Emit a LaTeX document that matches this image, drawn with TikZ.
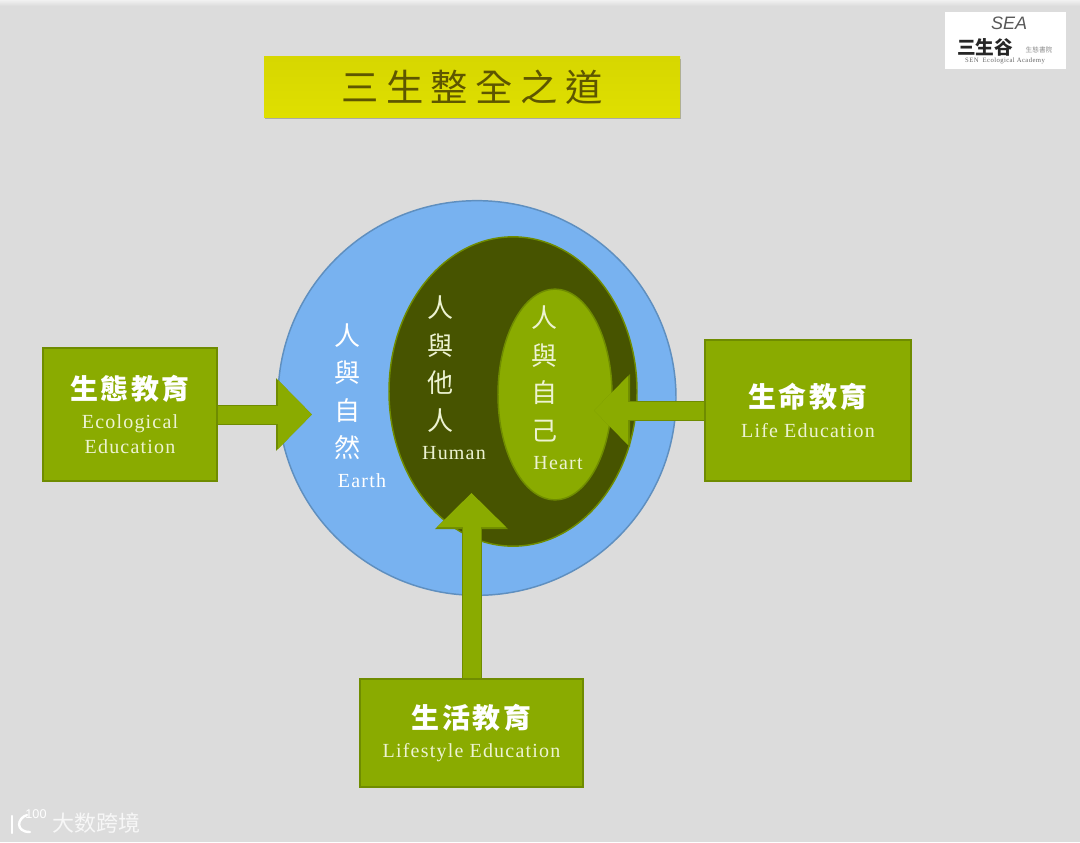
\documentclass[tikz,border=0pt]{standalone}
\usepackage{fontspec}
\usetikzlibrary{positioning, arrows.meta, shapes.geometric, shadows}
\setmainfont{Liberation Serif}[LetterSpace=6]
\newfontfamily\cjk{Noto Sans CJK TC}
\newfontfamily\cjkwide[LetterSpace=9]{Noto Sans CJK TC}
\newfontfamily\cjktitle[LetterSpace=20]{Noto Sans CJK TC}
\newfontfamily\logosans{Liberation Sans}
\definecolor{pagegray}{HTML}{DCDCDC}
\definecolor{earthblue}{HTML}{78B2F0}
\definecolor{earthline}{HTML}{5F8FBF}
\definecolor{humandark}{HTML}{475400}
\definecolor{leafgreen}{HTML}{8AAB00}
\definecolor{leafline}{HTML}{6F8C00}
\definecolor{labelpale}{HTML}{EDF3D2}
\definecolor{titleink}{HTML}{5E5600}

\begin{document}
\begin{tikzpicture}[
  x=0.75pt, y=-0.75pt,
  align=center,
  % Estilos de bloques
  edubox/.style={draw=leafline, line width=1.4pt, fill=leafgreen, rectangle, inner sep=0pt, text=labelpale, font=\fontsize{15}{24}\selectfont},
  % Estilos de anillos
  ring/.style={ellipse, inner sep=0pt, line width=1.1pt},
  % Estilos de textos
  vertlabel/.style={font=\cjk\fontsize{19.5}{28.1}\selectfont, inner sep=0pt},
  latinlabel/.style={font=\fontsize{15}{18}\selectfont, inner sep=0pt},
  % Estilos de flechas
  blockline/.style={draw=leafgreen, line width=13.5pt, -{Triangle[length=25.5pt, width=50pt, color=leafgreen]},
    preaction={draw=leafline, line width=15pt, -{Triangle[length=27pt, width=53pt, color=leafline]}}}
]
  \useasboundingbox (0,0) rectangle (1080,842);
  \fill[pagegray] (0,0) rectangle (1080,842);
  \fill[top color=white!60!pagegray, bottom color=pagegray] (0,0) rectangle (1080,6);

  % ==========================================
  % TITLE AND LOGO
  % ==========================================
  \node[rectangle, minimum width=312pt, minimum height=45pt, inner sep=0pt,
    top color=yellow!65!olive!90!white, middle color=yellow!85!olive, bottom color=yellow!75!olive,
    drop shadow={shadow xshift=0.8pt, shadow yshift=-1.8pt, opacity=0.55},
    text=titleink, font=\cjktitle\fontsize{28}{30}\selectfont] (titlebar) at (472,87) {三生整全之道};

  \node[fill=white, rectangle, minimum width=90.75pt, minimum height=42.75pt, inner sep=0pt] (logobox) at (1005.5,40.5) {};
  \node[font=\logosans\itshape\fontsize{13.5}{14}\selectfont, text=black!65, inner sep=0pt] (logosea) at (1009,23) {SEA};
  \node[font=\cjk\bfseries\fontsize{14}{15}\selectfont, text=black!85, inner sep=0pt] (logoname) at (985,47.5) {三生谷};
  \node[font=\cjk\fontsize{5}{6}\selectfont, text=black!45, inner sep=0pt] (logosub) at (1039,50) {生態書院};
  \node[font=\fontsize{5}{6}\selectfont, text=black!60, inner sep=0pt] (logoline) at (1005,61) {SEN\ \ Ecological Academy};

  % ==========================================
  % NESTED RINGS
  % ==========================================
  \node[ring, draw=earthline, fill=earthblue, minimum width=298.5pt, minimum height=296pt] (earth) at (477,398) {};
  \node[ring, draw=leafline, fill=humandark, minimum width=186pt, minimum height=232pt] (human) at (513,391.5) {};
  \node[ring, draw=leafline, fill=leafgreen, minimum width=85.5pt, minimum height=158pt] (heart) at (555,394.5) {};

  % Ring labels
  \node[vertlabel, text=white] (earthtext) at (347,391.5) {人\\與\\自\\然};
  \node[latinlabel, text=white] (earthname) at (362,481) {Earth};
  \node[vertlabel, text=labelpale] (humantext) at (440,364) {人\\與\\他\\人};
  \node[latinlabel, text=labelpale] (humanname) at (454,453) {Human};
  \node[vertlabel, text=labelpale] (hearttext) at (544,374) {人\\與\\自\\己};
  \node[latinlabel, text=labelpale] (heartname) at (558,463) {Heart};

  % ==========================================
  % EDUCATION BOXES
  % ==========================================
  \node[edubox, minimum width=130.5pt, minimum height=99.75pt] (ecobox) at (130,414.5) {%
    {\cjkwide\bfseries\fontsize{21}{24}\selectfont\textcolor{white}{生態教育}}\\[-2pt]
    Ecological\\[-5pt]
    Education};
  \node[edubox, minimum width=154.5pt, minimum height=105.75pt] (lifebox) at (808,410.5) {%
    {\cjkwide\bfseries\fontsize{21}{24}\selectfont\textcolor{white}{生命教育}}\\[-2pt]
    Life Education};
  \node[edubox, minimum width=167.25pt, minimum height=81pt] (stylebox) at (471.5,733) {%
    {\cjkwide\bfseries\fontsize{21}{24}\selectfont\textcolor{white}{生活教育}}\\[-2pt]
    Lifestyle Education};

  % Arrow ends
  \coordinate (earthtip) at (312,414.5);
  \coordinate (hearttip) at (594,410.5);
  \coordinate (humantip) at (471.5,493);

  \draw[blockline] (ecobox.east) -- (earthtip);
  \draw[blockline] (lifebox.west) -- (hearttip);
  \draw[blockline] (stylebox.north) -- (humantip);

  % ==========================================
  % WATERMARK
  % ==========================================
  \node[font=\cjk\fontsize{16.5}{18}\selectfont, text=white!97!black, inner sep=0pt] (marktext) at (96,823) {大数跨境};
  \node[font=\logosans\fontsize{9.5}{10}\selectfont, text=white, inner sep=0pt] (marknum) at (36,814) {100};
  \draw[white, line width=1.8pt, line cap=round] (12,816) -- (12,833);
  \draw[white, line width=1.8pt, line cap=round] (27,815) .. controls (17,818) and (15,832) .. (30,832);
\end{tikzpicture}
\end{document}
